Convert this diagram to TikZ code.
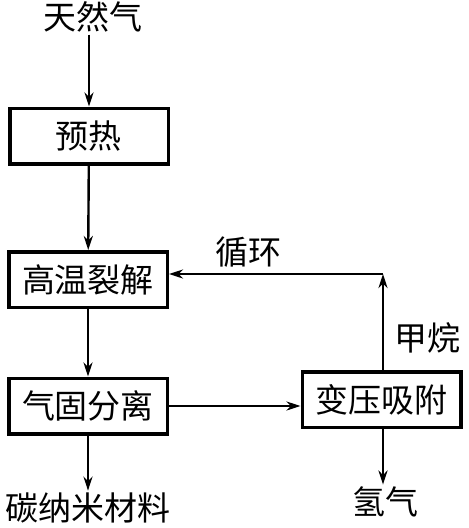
\documentclass[tikz,border=0pt]{standalone}
\usepackage{fontspec}
\setmainfont{Noto Sans CJK SC}
\usetikzlibrary{arrows.meta}
\begin{document}
\begin{tikzpicture}[x=1pt,y=-1pt,>={Stealth[length=14pt,width=9pt,inset=4.5pt]},
    every node/.style={font=\fontsize{33}{33}\selectfont,inner sep=2pt},
    process/.style={shape = rectangle, draw, line width=3.5pt, minimum width=158.5pt, minimum height=55.5pt},
    flow/.style={->, line width=2.4pt}]
    \useasboundingbox (0,0) rectangle (469,528);
    \node (NaturalGas) at (93, 17) {天然气};
    \node (Preheat) [process] at (89, 136) {预热};
    \node (Pyrolysis) [process] at (88, 279.5) {高温裂解};
    \node (Separation) [process] at (88, 406) {气固分离};
    \node (Carbon) at (88, 508) {碳纳米材料};
    \node (PSA) [process] at (381.5, 399.5) {变压吸附};
    \node (Hydrogen) at (385, 502) {氢气};
    \coordinate (Turn) at (383, 274);
    \node (Recycle) at (248, 252) {循环};
    \node (Methane) at (427, 338) {甲烷};
    \draw [flow] (NaturalGas.south -| Preheat.north) -- (Preheat.north);
    \draw [flow] (Preheat) -- (Pyrolysis);
    \draw [flow] (Pyrolysis) -- (Separation);
    \draw [flow] (Separation.south) -- (Separation.south |- Carbon.north);
    \draw [flow] (Separation.east) -- (Separation.east -| PSA.west);
    \draw [flow] (PSA.north -| Turn) -- (Turn);
    \draw [flow] (Turn) -- (Turn -| Pyrolysis.east);
    \draw [flow] (PSA.south -| Turn) -- (Hydrogen.north -| Turn);
\end{tikzpicture}
\end{document}
